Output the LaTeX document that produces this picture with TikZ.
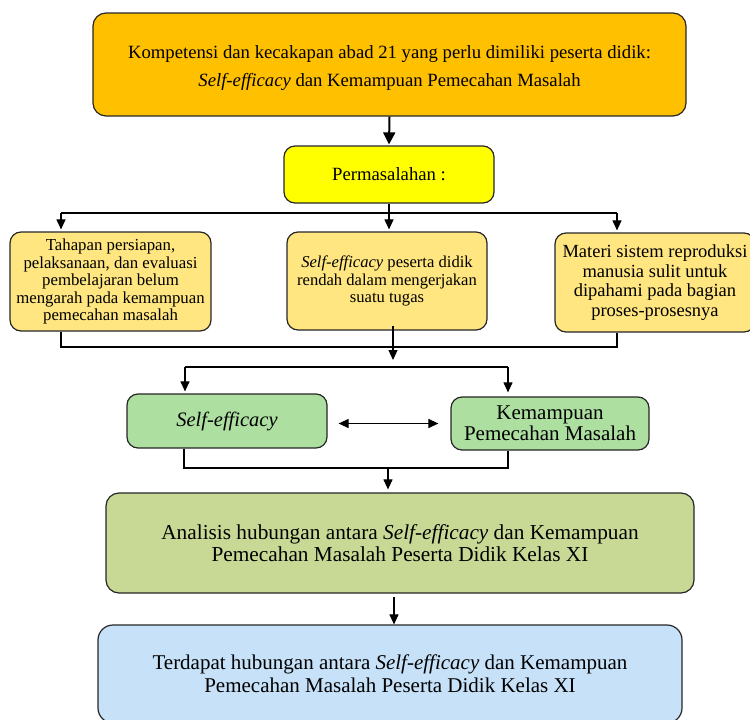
\documentclass[tikz,border=0pt]{standalone}
\usepackage{fontspec}
\setmainfont{Liberation Serif}
\usetikzlibrary{arrows.meta}
\definecolor{cOrange}{HTML}{FFC000}
\definecolor{cYellow}{HTML}{FFFF00}
\definecolor{cLight}{HTML}{FFE680}
\definecolor{cGreen}{HTML}{ACDFA0}
\definecolor{cOlive}{HTML}{C8D995}
\definecolor{cBlue}{HTML}{C6E1F8}
\definecolor{cEdge}{HTML}{262626}
\begin{document}
\begin{tikzpicture}[x=1pt,y=-1pt,
  box/.style={draw=cEdge, line width=1.2pt, rounded corners=13pt, align=center, inner sep=0pt},
  smallbox/.style={box, rounded corners=11pt},
  conn/.style={line width=1.1pt, black},
  tip/.style={-{Triangle[width=9pt,length=10pt]}},
  bigtip/.style={-{Triangle[width=12pt,length=12pt]}},
  dtip/.style={{Triangle[width=9pt,length=10pt]}-{Triangle[width=9pt,length=10pt]}}]
\useasboundingbox (0,0) rectangle (750,720);
\clip (0,0) rectangle (750,720);

\node[box, fill=cOrange, minimum width=593pt, minimum height=103pt] (top) at (389.5,64.5) {};
\node[align=center, inner sep=0pt, font=\fontsize{18.7}{28}\selectfont] (toptext) at (389.5,68)
  {Kompetensi dan kecakapan abad 21 yang perlu dimiliki peserta didik:\\\textit{Self-efficacy} dan Kemampuan Pemecahan Masalah};

\node[smallbox, fill=cYellow, minimum width=210pt, minimum height=57pt,
  font=\fontsize{18.7}{22}\selectfont] (perm) at (389,174.5) {Permasalahan :};

\node[smallbox, fill=cLight, minimum width=201pt, minimum height=99pt,
  font=\fontsize{16.8}{17.5}\selectfont] (L) at (110.5,281.5)
  {Tahapan persiapan,\\pelaksanaan, dan evaluasi\\pembelajaran belum\\mengarah pada kemampuan\\pemecahan masalah};

\node[smallbox, fill=cLight, minimum width=200pt, minimum height=98pt,
  font=\fontsize{16.6}{17.5}\selectfont] (M) at (387,281)
  {\textit{Self-efficacy} peserta didik\\rendah dalam mengerjakan\\suatu tugas};

\node[smallbox, fill=cLight, minimum width=200pt, minimum height=99pt,
  font=\fontsize{18.5}{19.5}\selectfont] (R) at (655,282.5)
  {Materi sistem reproduksi\\manusia sulit untuk\\dipahami pada bagian\\proses-prosesnya};

\node[smallbox, fill=cGreen, minimum width=200pt, minimum height=54pt,
  font=\fontsize{20.5}{21}\selectfont\itshape] (SE) at (227,421) {Self-efficacy};

\node[smallbox, fill=cGreen, minimum width=198pt, minimum height=53pt,
  font=\fontsize{21}{21}\selectfont] (KPM) at (550,423.5) {Kemampuan\\Pemecahan Masalah};

\node[box, fill=cOlive, minimum width=588pt, minimum height=100pt,
  font=\fontsize{21.3}{22}\selectfont] (AN) at (400,543)
  {Analisis hubungan antara \textit{Self-efficacy} dan Kemampuan\\Pemecahan Masalah Peserta Didik Kelas XI};

\node[box, fill=cBlue, minimum width=584pt, minimum height=98pt, rounded corners=15pt,
  font=\fontsize{21}{23}\selectfont] (TD) at (390,674)
  {Terdapat hubungan antara \textit{Self-efficacy} dan Kemampuan\\Pemecahan Masalah Peserta Didik Kelas XI};

% top -> permasalahan
\draw[conn, line width=2pt, bigtip, shorten >=1pt] (top.south) -- (perm.north);

% permasalahan branch
\coordinate (jl) at (61,213);
\coordinate (jr) at (617,213);
\draw[conn] (jl) -- (jr);
\draw[conn, tip, shorten >=2pt] (perm.south) -- (perm.south |- M.north);
\draw[conn, tip, shorten >=2pt] (jl) -- (jl |- L.north);
\draw[conn, tip, shorten >=2pt] (jr) -- (jr |- R.north);

% join of the three problem boxes
\coordinate (kl) at (61,347);
\coordinate (kr) at (617,347);
\draw[conn] (L.south -| kl) -- (kl) -- (kr) -- (R.south -| kr);
\coordinate (m1) at (393,360);
\draw[conn, tip] ([yshift=5pt]M.south -| m1) -- (m1);

% split to the two variables
\coordinate (nl) at (185,367);
\coordinate (nr) at (508,367);
\draw[conn] (nl) -- (nr);
\draw[conn, tip, shorten >=2pt] (nl) -- (nl |- SE.north);
\draw[conn, tip, shorten >=4pt] (nr) -- (nr |- KPM.north);

% relation between variables
\coordinate (dy) at (0,423.5);
\draw[conn, dtip, shorten <=11pt, shorten >=12pt] (SE.east |- dy) -- (KPM.west |- dy);

% join of the two variables
\coordinate (ol) at (184,468);
\coordinate (or) at (508,468);
\coordinate (om) at (388,468);
\draw[conn] (SE.south -| ol) -- (ol) -- (or) -- (KPM.south -| or);
\draw[conn, tip, shorten >=3pt] (om) -- (om |- AN.north);

% analysis -> result
\coordinate (p1) at (394,597);
\draw[conn, tip] (p1) -- (p1 |- TD.north);
\end{tikzpicture}
\end{document}
